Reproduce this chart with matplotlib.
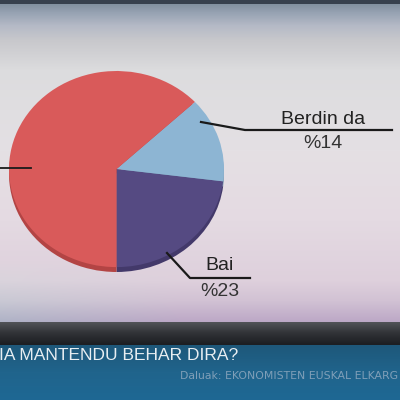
import numpy as np
import matplotlib.pyplot as plt

labels = ['Bai', 'Berdin da', '']
values = [23, 14, 63]
colors = ['#554a82', '#8db5d3', '#d95a5a']
shadow_colors = ['#43396a', '#7898b0', '#b34444']
title = 'IA MANTENDU BEHAR DIRA?'
source = 'Daluak: EKONOMISTEN EUSKAL ELKARG'

W, H = 400, 400
fig = plt.figure(figsize=(4, 4), dpi=100)

# background
bg = fig.add_axes([0, 0, 1, 1])
ys = [0, 3, 4, 12, 25, 40, 70, 150, 220, 280, 300, 321, 322, 333, 344, 345, 372, 400]
cols = np.array([
    [55, 65, 78], [55, 65, 78], [130, 145, 160], [150, 162, 178], [180, 185, 198],
    [200, 200, 204], [220, 220, 222], [228, 224, 228], [228, 218, 226], [222, 208, 220],
    [210, 194, 212], [188, 168, 198], [80, 82, 86], [48, 50, 54], [28, 30, 34],
    [30, 88, 122], [32, 100, 140], [30, 104, 148]]) / 255.0
yy = np.arange(H)
img = np.zeros((H, W, 3))
for c in range(3):
    img[:, :, c] = np.interp(yy, ys, cols[:, c])[:, None]
# left side turns bluish-gray towards the bottom of the light area
xx = np.linspace(0, 1, W)
wy = np.clip((yy - 260) / 60.0, 0, 1) * (yy < 322)
left = np.clip(1 - xx / 0.45, 0, 1)
shift = np.array([-0.05, 0.04, 0.0])
for c in range(3):
    img[:, :, c] += wy[:, None] * left[None, :] * shift[c]
bg.imshow(np.clip(img, 0, 1), extent=[0, W, H, 0], aspect='auto')
bg.axis('off')

# pie
ax = fig.add_axes([9 / W, 1 - 272 / H, 215 / W, 201 / H])
ax.pie(values, colors=shadow_colors, startangle=270, counterclock=True,
       radius=1, center=(0, -0.05))
ax.pie(values, colors=colors, startangle=270, counterclock=True, radius=1,
       center=(0, 0.0))
ax.set_aspect('auto')
ax.set_xlim(-1, 1)
ax.set_ylim(-1.05, 1)
ax.axis('off')

# overlay for labels and leader lines (pixel coords)
ov = fig.add_axes([0, 0, 1, 1])
ov.set_xlim(0, W)
ov.set_ylim(H, 0)
ov.axis('off')
lab_font = ['Liberation Sans', 'DejaVu Sans']

ov.plot([0, 31], [168, 168], color='#1a1a1a', lw=1.3)
ov.plot([201, 245, 392], [122, 130, 130], color='#1a1a1a', lw=1.6)
ov.text(323, 119, labels[1], ha='center', va='center', fontsize=14, color='#222222', family=lab_font)
ov.text(323, 144, '%' + str(values[1]), ha='center', va='center', fontsize=14, color='#333333', family=lab_font)
ov.plot([167, 190, 250], [253, 278, 278], color='#1a1a1a', lw=1.6)
ov.text(220, 266, labels[0], ha='center', va='center', fontsize=14, color='#222222', family=lab_font)
ov.text(220, 292, '%' + str(values[0]), ha='center', va='center', fontsize=14, color='#333333', family=lab_font)

ov.text(-1, 356, title, ha='left', va='center', fontsize=12.5, color='#e8eef2', family=lab_font)
ov.text(180, 376, source, ha='left', va='center', fontsize=7.8, color='#7f9fb8',
        family=['DejaVu Sans'])

fig.savefig('out.png', dpi=100)
